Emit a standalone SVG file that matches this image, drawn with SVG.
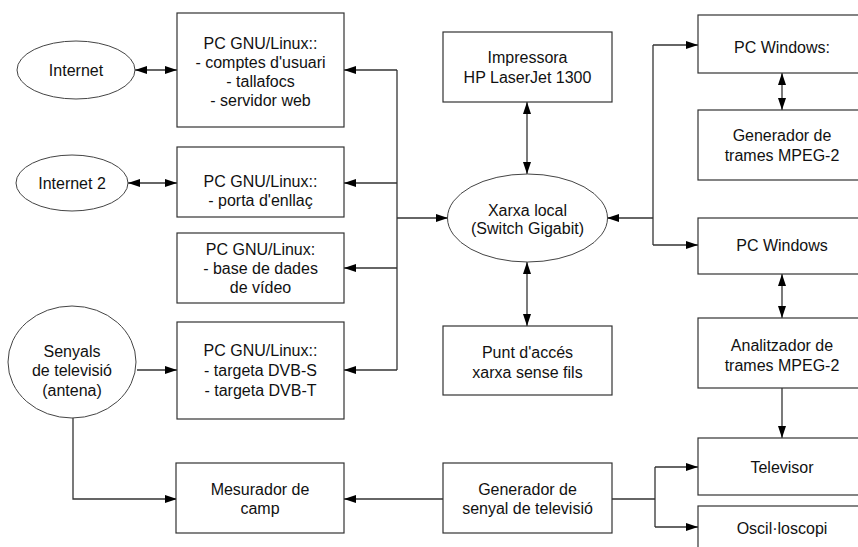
<svg xmlns="http://www.w3.org/2000/svg" width="858" height="547" viewBox="0 0 858 547">
<style>
.box{fill:#fff;stroke:#333;stroke-width:1.2}
.ell{fill:#fff;stroke:#444;stroke-width:1}
.t{font-family:"Liberation Sans",Arial,sans-serif;font-size:16px;fill:#111;text-anchor:middle}
.c{fill:none;stroke:#333;stroke-width:1.3}
.a{marker-end:url(#ah)}
.b{marker-start:url(#ah);marker-end:url(#ah)}
</style>
<defs>
<marker id="ah" markerWidth="12" markerHeight="8" refX="12" refY="4" orient="auto-start-reverse" markerUnits="userSpaceOnUse">
<path d="M0,0 L12,4 L0,8 z" fill="#000"/>
</marker>
</defs>
<rect width="858" height="547" fill="#fff"/>
<g id="connectors">
<line class="c b" x1="135" y1="70" x2="177" y2="70"/>
<line class="c b" x1="128" y1="183" x2="177" y2="183"/>
<line class="c a" x1="137" y1="370" x2="177" y2="370"/>
<line class="c" x1="397" y1="70" x2="397" y2="370"/>
<line class="c a" x1="397" y1="70" x2="344" y2="70"/>
<line class="c a" x1="397" y1="183" x2="344" y2="183"/>
<line class="c a" x1="397" y1="268" x2="344" y2="268"/>
<line class="c a" x1="397" y1="370" x2="344" y2="370"/>
<line class="c a" x1="397" y1="218" x2="448" y2="218"/>
<line class="c a" x1="653" y1="218" x2="607" y2="218"/>
<line class="c" x1="653" y1="45" x2="653" y2="245"/>
<line class="c a" x1="653" y1="45" x2="698" y2="45"/>
<line class="c a" x1="653" y1="245" x2="698" y2="245"/>
<line class="c b" x1="527" y1="102" x2="527" y2="174"/>
<line class="c b" x1="527" y1="262" x2="527" y2="326"/>
<line class="c b" x1="782" y1="73" x2="782" y2="110"/>
<line class="c b" x1="782" y1="274" x2="782" y2="318"/>
<line class="c a" x1="782" y1="388" x2="782" y2="438"/>
<polyline class="c a" points="73,418 73,499 177,499"/>
<line class="c a" x1="443" y1="499" x2="344" y2="499"/>
<line class="c" x1="612" y1="499" x2="655" y2="499"/>
<line class="c" x1="655" y1="467" x2="655" y2="527"/>
<line class="c a" x1="655" y1="467" x2="698" y2="467"/>
<line class="c a" x1="655" y1="527" x2="698" y2="527"/>
</g>
<g id="internet">
<ellipse class="ell" cx="76" cy="70" rx="59" ry="29"/>
<text class="t" x="76" y="76">Internet</text>
</g>
<g id="internet2">
<ellipse class="ell" cx="72" cy="183" rx="56" ry="28"/>
<text class="t" x="72" y="189">Internet 2</text>
</g>
<g id="senyals">
<ellipse class="ell" cx="72" cy="362" rx="64" ry="56"/>
<text class="t" x="72" y="357">Senyals</text>
<text class="t" x="72" y="376">de televisió</text>
<text class="t" x="72" y="396">(antena)</text>
</g>
<g id="pc1">
<rect class="box" x="177" y="13" width="167" height="114"/>
<text class="t" x="260.5" y="49">PC GNU/Linux::</text>
<text class="t" x="260.5" y="68">- comptes d'usuari</text>
<text class="t" x="260.5" y="87">- tallafocs</text>
<text class="t" x="260.5" y="106">- servidor web</text>
</g>
<g id="pc2">
<rect class="box" x="177" y="147" width="167" height="70"/>
<text class="t" x="260.5" y="187">PC GNU/Linux::</text>
<text class="t" x="260.5" y="206">- porta d'enllaç</text>
</g>
<g id="pc3">
<rect class="box" x="177" y="233" width="167" height="70"/>
<text class="t" x="260.5" y="255">PC GNU/Linux:</text>
<text class="t" x="260.5" y="274">- base de dades</text>
<text class="t" x="260.5" y="293">de vídeo</text>
</g>
<g id="pc4">
<rect class="box" x="177" y="322" width="167" height="97"/>
<text class="t" x="260.5" y="356">PC GNU/Linux::</text>
<text class="t" x="260.5" y="376">- targeta DVB-S</text>
<text class="t" x="260.5" y="396">- targeta DVB-T</text>
</g>
<g id="impressora">
<rect class="box" x="443" y="32" width="169" height="70"/>
<text class="t" x="527.5" y="63">Impressora</text>
<text class="t" x="527.5" y="83">HP LaserJet 1300</text>
</g>
<g id="xarxa">
<ellipse class="ell" cx="527.5" cy="218" rx="80" ry="44"/>
<text class="t" x="527.5" y="216">Xarxa local</text>
<text class="t" x="527.5" y="234">(Switch Gigabit)</text>
</g>
<g id="punt">
<rect class="box" x="443" y="326" width="169" height="69"/>
<text class="t" x="527.5" y="358">Punt d'accés</text>
<text class="t" x="527.5" y="378">xarxa sense fils</text>
</g>
<g id="pcwin1">
<rect class="box" x="698" y="15" width="170" height="58"/>
<text class="t" x="782" y="53">PC Windows:</text>
</g>
<g id="generador-trames">
<rect class="box" x="698" y="110" width="170" height="70"/>
<text class="t" x="782" y="141">Generador de</text>
<text class="t" x="782" y="161">trames MPEG-2</text>
</g>
<g id="pcwin2">
<rect class="box" x="698" y="218" width="170" height="56"/>
<text class="t" x="782" y="251">PC Windows</text>
</g>
<g id="analitzador">
<rect class="box" x="698" y="318" width="170" height="70"/>
<text class="t" x="782" y="351">Analitzador de</text>
<text class="t" x="782" y="371">trames MPEG-2</text>
</g>
<g id="televisor">
<rect class="box" x="698" y="438" width="170" height="57"/>
<text class="t" x="782" y="473">Televisor</text>
</g>
<g id="oscil">
<rect class="box" x="698" y="506" width="170" height="60"/>
<text class="t" x="782" y="534">Oscil·loscopi</text>
</g>
<g id="mesurador">
<rect class="box" x="176" y="463" width="168" height="70"/>
<text class="t" x="260" y="495">Mesurador de</text>
<text class="t" x="260" y="514">camp</text>
</g>
<g id="generador-senyal">
<rect class="box" x="443" y="463" width="169" height="70"/>
<text class="t" x="527.5" y="495">Generador de</text>
<text class="t" x="527.5" y="514">senyal de televisió</text>
</g>
</svg>
